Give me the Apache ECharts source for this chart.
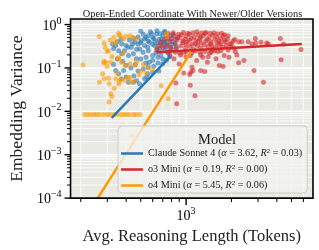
<!DOCTYPE html>
<html><head><meta charset="utf-8">
<script src="https://cdn.jsdelivr.net/npm/echarts@6/dist/echarts.min.js"></script>
<style>html,body{margin:0;padding:0;background:#fff}#c{width:319px;height:250px}</style>
</head><body><div id="c"></div>
<script>
const models = ['Claude Sonnet 4', 'o3 Mini', 'o4 Mini'];
const alphas = [3.62, 0.19, 5.45];
const r2s = ['0.03', '0.00', '0.06'];
const colors = ['#2878B8', '#D62728', '#FF9900'];

const claudePoints = [[325,0.357],[341,0.33],[357,0.25],[374,0.357],[400,0.33],[433,0.30],[457,0.39],[480,0.357],[502,0.425],[530,0.465],[492,0.274],[517,0.23],[556,0.30],[570,0.39],[447,0.211],[414,0.193],[374,0.211],[468,0.162],[542,0.177],[570,0.136],
[600,0.51],[636,0.605],[684,0.465],[718,0.39],[619,0.33],[667,0.274],[737,0.30],[600,0.193],[651,0.177],[700,0.162],[755,0.23],[772,0.465],[718,0.66],
[341,0.087],[357,0.073],[385,0.087],[447,0.047],[468,0.051],[490,0.043],[530,0.056],[556,0.073],[414,0.047],
[620,0.42],[650,0.38],[700,0.55],[740,0.48],[780,0.33],[810,0.40],[590,0.62],[560,0.55],[520,0.60],[480,0.52],[450,0.48],[420,0.44],[600,0.35],[640,0.28],[690,0.33],[720,0.26],[760,0.22],[800,0.27],[830,0.35],[850,0.45],[560,0.25],[530,0.33],[500,0.38],[470,0.27],[440,0.36],[410,0.30],[390,0.25],[370,0.45],[350,0.40],[330,0.28],[560,0.42],[610,0.48],[670,0.62],[720,0.70],[640,0.72],[580,0.68],[500,0.70],[540,0.50],[660,0.45],[700,0.40],[740,0.37],[780,0.55],[820,0.60],[860,0.30],[630,0.22],[680,0.20],[600,0.15],[540,0.13],[500,0.16],[460,0.12],[430,0.10],[400,0.115],[380,0.14],[350,0.16],[330,0.12],[480,0.085],[520,0.095],[560,0.105],[610,0.11],[650,0.13],[700,0.125],[740,0.15],[780,0.18],[450,0.065],[400,0.062],[370,0.055],[600,0.078],[660,0.085],[550,0.062]];

const o3Points = [[720,0.45],[750,0.52],[780,0.40],[800,0.48],[830,0.55],[850,0.36],[870,0.44],[900,0.50],[930,0.58],[950,0.38],[980,0.46],[1000,0.54],[1020,0.40],[1050,0.60],[1080,0.48],[1100,0.35],[1130,0.52],[1160,0.43],[1200,0.58],[1230,0.47],[1260,0.38],[1300,0.55],[1340,0.62],[1380,0.45],[1420,0.50],[1460,0.40],[1500,0.57],[1550,0.46],[1600,0.52],[1650,0.42],[1700,0.48],[1760,0.55],[1820,0.40],[1880,0.46],[1950,0.36],[2050,0.42],[740,0.33],[790,0.30],[860,0.28],[920,0.32],[990,0.29],[1060,0.31],[1120,0.27],[1190,0.33],[1250,0.29],[1320,0.34],[1400,0.31],[1480,0.33],[1570,0.30],[1660,0.34],[1750,0.30],[1850,0.33],[1980,0.30],[680,0.38],[700,0.30],[760,0.62],[820,0.65],[890,0.60],[960,0.66],[1030,0.63],[1110,0.65],[1180,0.68],[1270,0.64],[1350,0.66],[1440,0.63],[1530,0.65],[1620,0.61],[1720,0.63],[1800,0.58],[1900,0.55],[640,0.26],[660,0.33],[780,0.25],[850,0.23],[910,0.22],[1000,0.24],[1090,0.22],[1150,0.25],[1240,0.23],[1330,0.24],[1430,0.22],[1540,0.25],[1620,0.24],
[830,0.162],[900,0.124],[1065,0.193],[1175,0.148],[1290,0.177],[1385,0.136],[1580,0.162],[1660,0.114],[1470,0.23],[1790,0.193],[1925,0.177],[1095,0.104],[965,0.23],
[965,0.076],[1055,0.071],[1075,0.080],[1110,0.087],[1250,0.087],[1330,0.083],[855,0.045],[1065,0.040],[1145,0.023],[866,0.015],[2820,0.087],[3260,0.047],
[2230,0.40],[2340,0.40],[2580,0.40],[2880,0.48],[2900,0.376],[2740,0.357],[3140,0.39],[3420,0.376],[3510,0.357],[4220,0.48],[4430,0.357],[5790,0.265],[4268,0.155],[2420,0.148],[2230,0.131],[2120,0.24],[2075,0.29],[2170,0.20],[1760,0.108],
[1500,0.27],[1700,0.25],[1900,0.26],[2000,0.36],[2100,0.45],[1600,0.38],[1350,0.41],[1200,0.40],[1150,0.36],[950,0.42],[880,0.50],[1000,0.35],[1050,0.44],[1250,0.50],[1450,0.36],[1700,0.37],[1800,0.44],[1250,0.20],[1400,0.18],[1000,0.18],[920,0.20],[780,0.20]];

const o4Points = [[207,0.118],[291,0.30],[305,0.25],[293,0.136],[284,0.13],[316,0.136],[332,0.51],[341,0.40],[366,0.555],[385,0.465],[398,0.535],[424,0.555],[440,0.51],[468,0.465],[322,0.183],[357,0.162],[374,0.136],[394,0.114],[424,0.124],[457,0.114],
[212,0.0084],[223,0.0084],[233,0.0084],[244,0.0084],[254,0.0084],[266,0.0084],[282,0.0084],[299,0.0084],[313,0.0084],[332,0.0084],[347,0.0084],[368,0.0084],[385,0.0084],[402,0.0084],[420,0.0084],[447,0.0084],[466,0.0084],[494,0.0084],
[266,0.047],[286,0.056],[308,0.043],[357,0.043],[374,0.056],[341,0.056],[316,0.0255],[308,0.0164],[414,0.061],[433,0.047],[279,0.073],
[265,0.53],[286,0.14],[299,0.108],[306,0.058],[333,0.034],[322,0.022],[347,0.077],[360,0.049],[391,0.053],[420,0.059],[453,0.049],[487,0.069],[333,0.37],[383,0.22],[356,0.171],[299,0.238],[286,0.376],[313,0.44],[360,0.574],[356,0.63],
[740,0.605],[748,0.52],[684,0.039],[760,0.0195],[470,0.14],[520,0.12],[560,0.10],[600,0.09],[500,0.085],[540,0.075],
[433,0.0028]];

const claudeFit = [[321, 0.00706], [785, 0.185]];
const o3Fit = [[635, 0.230], [5850, 0.357]];
const o4Fit = [[259, 0.0001], [1081, 0.234]];

const xMajorTicks = [1000];
const xMinorTicks = [200,300,400,500,600,700,800,900,2000,3000,4000,5000,6000];
const yMajorTicks = [0.0001,0.001,0.01,0.1,1];
const yMinorTicks = [0.0002,0.0003,0.0004,0.0005,0.0006,0.0007,0.0008,0.0009,
  0.002,0.003,0.004,0.005,0.006,0.007,0.008,0.009,
  0.02,0.03,0.04,0.05,0.06,0.07,0.08,0.09,
  0.2,0.3,0.4,0.5,0.6,0.7,0.8,0.9];
const X_MIN = 171, X_MAX = 6950, Y_MIN = 0.0001, Y_MAX = 1.343;

const FONT = 'Liberation Serif';
const chart = echarts.init(document.getElementById('c'), null, {renderer: 'canvas'});

function powLabel(v) {
  const e = Math.log10(v), r = Math.round(e);
  if (Math.abs(e - r) > 1e-6) return '';
  return '{b|10}{s|' + (r < 0 ? '\u2212' : '') + Math.abs(r) + '}';
}
const labelRich = {
  b: {fontFamily: FONT, fontSize: 14, color: '#000', verticalAlign: 'bottom'},
  s: {fontFamily: FONT, fontSize: 10, color: '#000', verticalAlign: 'bottom', padding: [0, 0, 7, 0]}
};

function vGrid(params, api) {
  const cs = params.coordSys;
  const x = api.coord([api.value(0), 1])[0];
  const major = api.value(1) === 2;
  return {type: 'line', silent: true, shape: {x1: x, y1: cs.y, x2: x, y2: cs.y + cs.height},
    style: {stroke: '#ffffff', lineWidth: major ? 1.4 : 0.8}};
}
function hGrid(params, api) {
  const cs = params.coordSys;
  const y = api.coord([1000, api.value(1)])[1];
  const major = api.value(0) === 2;
  return {type: 'line', silent: true, shape: {x1: cs.x, y1: y, x2: cs.x + cs.width, y2: y},
    style: {stroke: '#ffffff', lineWidth: major ? 1.4 : 0.8}};
}
function xTick(params, api) {
  const cs = params.coordSys;
  const x = api.coord([api.value(0), 1])[0];
  const major = api.value(1) === 2;
  const b = cs.y + cs.height;
  return {type: 'line', silent: true, shape: {x1: x, y1: b, x2: x, y2: b + (major ? 7 : 4)},
    style: {stroke: '#000', lineWidth: major ? 1.4 : 1}};
}
function yTick(params, api) {
  const cs = params.coordSys;
  const y = api.coord([1000, api.value(1)])[1];
  const major = api.value(0) === 2;
  return {type: 'line', silent: true, shape: {x1: cs.x - (major ? 6 : 3.5), y1: y, x2: cs.x, y2: y},
    style: {stroke: '#000', lineWidth: major ? 1.4 : 1}};
}
function frame(params, api) {
  const cs = params.coordSys;
  return {type: 'rect', silent: true, shape: {x: cs.x, y: cs.y, width: cs.width, height: cs.height},
    style: {fill: 'none', stroke: '#000', lineWidth: 1.6}};
}

const xTickData = xMajorTicks.map(v => [v, 2]).concat(xMinorTicks.map(v => [v, 1]));
const yTickData = yMajorTicks.map(v => [2, v]).concat(yMinorTicks.map(v => [1, v]));

const scatterStyle = (c) => ({color: c, opacity: 0.6});

chart.setOption({
  animation: false,
  backgroundColor: '#ffffff',
  title: [
    {text: 'Open-Ended Coordinate With Newer/Older Versions', left: 187.5, top: 4, textAlign: 'center',
     textStyle: {fontFamily: FONT, fontSize: 10.4, fontWeight: 'normal', color: '#222'}},
    {text: 'Model', left: 212, top: 128, textAlign: 'center',
     textStyle: {fontFamily: FONT, fontSize: 14.5, fontWeight: 'normal', color: '#222'}}
  ],
  grid: {left: 62, top: 19, right: 6, bottom: 51, show: true, backgroundColor: '#EAEAE5', borderWidth: 0},
  xAxis: {
    type: 'log', logBase: 10, min: X_MIN, max: X_MAX,
    name: 'Avg. Reasoning Length (Tokens)', nameLocation: 'middle', nameGap: 27,
    nameTextStyle: {fontFamily: FONT, fontSize: 16.5, color: '#222'},
    axisLine: {show: false}, axisTick: {show: false}, splitLine: {show: false},
    axisLabel: {formatter: powLabel, rich: labelRich, margin: 8, color: '#000'}
  },
  yAxis: {
    type: 'log', logBase: 10, min: Y_MIN, max: Y_MAX,
    name: 'Embedding Variance', nameLocation: 'middle', nameGap: 40,
    nameTextStyle: {fontFamily: FONT, fontSize: 17.5, color: '#222'},
    axisLine: {show: false}, axisTick: {show: false}, splitLine: {show: false},
    axisLabel: {formatter: powLabel, rich: labelRich, margin: 9, color: '#000'}
  },
  legend: {
    orient: 'vertical', left: 118, top: 126,
    data: models.map(n => ({name: n, icon: 'rect'})),
    itemWidth: 22, itemHeight: 2.5, itemGap: 5,
    padding: [22, 5, 2, 3],
    backgroundColor: 'rgba(242,242,238,0.82)', borderColor: '#cccccc', borderWidth: 1, borderRadius: 4,
    textStyle: {fontFamily: FONT, fontSize: 10.2, color: '#222', lineHeight: 11,
      rich: {i: {fontFamily: FONT, fontSize: 10.2, fontStyle: 'italic', color: '#222'},
             s: {fontFamily: FONT, fontSize: 7, color: '#222', verticalAlign: 'bottom', padding: [0, 0, 4, 0]}}},
    formatter: function (name) {
      const i = models.indexOf(name);
      return name + ' ({i|\u03b1} = ' + alphas[i].toFixed(2) + ', {i|R}{s|2} = ' + r2s[i] + ')';
    }
  },
  series: [
    {type: 'custom', name: 'vgrid', renderItem: vGrid, data: xTickData, clip: false, z: 1, silent: true},
    {type: 'custom', name: 'hgrid', renderItem: hGrid, data: yTickData, clip: false, z: 1, silent: true},
    {type: 'scatter', name: 'Claude pts', data: claudePoints, symbolSize: 5, itemStyle: scatterStyle(colors[0]), z: 2},
    {type: 'scatter', name: 'o3 pts', data: o3Points, symbolSize: 5, itemStyle: scatterStyle(colors[1]), z: 2},
    {type: 'scatter', name: 'o4 pts', data: o4Points, symbolSize: 5, itemStyle: scatterStyle(colors[2]), z: 2},
    {type: 'line', name: models[0], data: claudeFit, showSymbol: false, lineStyle: {width: 2.5, color: colors[0]}, itemStyle: {color: colors[0]}, z: 3, clip: true},
    {type: 'line', name: models[1], data: o3Fit, showSymbol: false, lineStyle: {width: 2.5, color: colors[1]}, itemStyle: {color: colors[1]}, z: 3, clip: true},
    {type: 'line', name: models[2], data: o4Fit, showSymbol: false, lineStyle: {width: 2.5, color: colors[2]}, itemStyle: {color: colors[2]}, z: 3, clip: true},
    {type: 'custom', name: 'xticks', renderItem: xTick, data: xTickData, clip: false, z: 5, silent: true},
    {type: 'custom', name: 'yticks', renderItem: yTick, data: yTickData, clip: false, z: 5, silent: true},
    {type: 'custom', name: 'frame', renderItem: frame, data: [[1000, 1]], clip: false, z: 6, silent: true}
  ]
});
</script>
</body></html>
